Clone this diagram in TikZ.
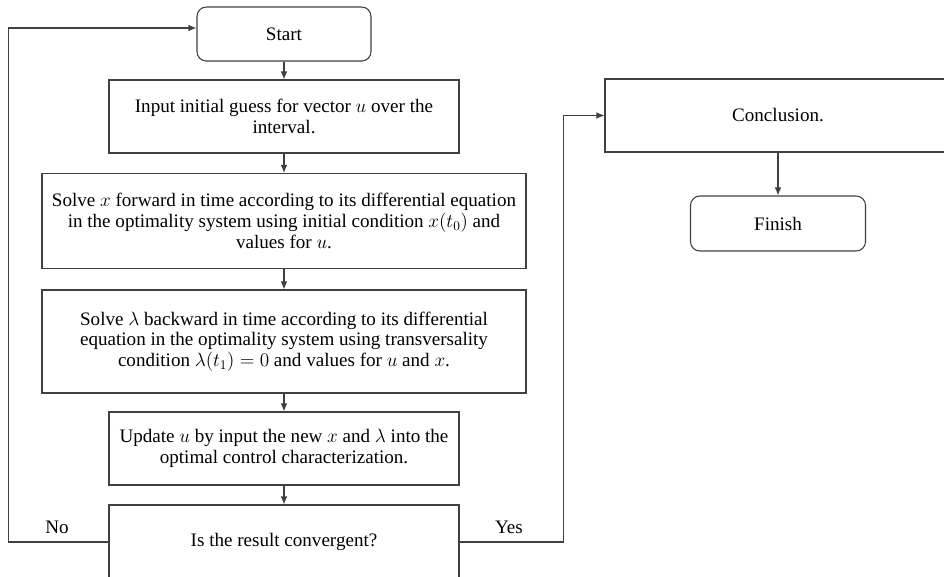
\documentclass[tikz,border=0pt]{standalone}
\usepackage{fontspec}
\setmainfont{Liberation Serif}
\usepackage{tikz}
\usetikzlibrary{arrows.meta}

\tikzset{
	stepbox/.style={draw=black!75, line width=0.8pt, align=center, inner sep=2pt,
		font=\fontsize{14.3}{15.6}\selectfont},
	endbox/.style={stepbox, rounded corners=7pt},
	flow/.style={draw=black!75, line width=0.8pt, -{Latex[length=6pt,width=5pt]}},
	answer/.style={font=\fontsize{14.3}{15.6}\selectfont}
}

\begin{document}
\begin{tikzpicture}[x=0.75pt, y=-0.75pt]
	\useasboundingbox (0,0) rectangle (944,576);
	%% main column
	\node[endbox, minimum width=130.5pt, minimum height=40.5pt] (start) at (284,34) {Start};
	\node[stepbox, minimum width=262.5pt, minimum height=54.75pt] (input) at (284,116.5)
		{Input initial guess for vector $u$ over the\\ interval.};
	\node[stepbox, minimum width=363pt, minimum height=71.25pt] (solvex) at (284,221)
		{Solve $x$ forward in time according to its differential equation\\
		 in the optimality system using initial condition $x(t_0)$ and\\ values for $u$.};
	\node[stepbox, minimum width=363pt, minimum height=77.25pt] (solvelam) at (284,341.5)
		{Solve $\lambda$ backward in time according to its differential\\
		 equation in the optimality system using transversality\\
		 condition $\lambda(t_1)=0$ and values for $u$ and $x$.};
	\node[stepbox, minimum width=262.5pt, minimum height=54.75pt] (update) at (284,448.5)
		{Update $u$ by input the new $x$ and $\lambda$ into the\\ optimal control characterization.};
	\node[stepbox, minimum width=262.5pt, minimum height=55.5pt] (conv) at (284,542)
		{Is the result convergent?};
	%% right column
	\node[stepbox, minimum width=259.5pt, minimum height=54.75pt] (concl) at (778,115.5) {Conclusion.};
	\node[endbox, minimum width=131.25pt, minimum height=41.25pt] (finish) at (778,223.5) {Finish};
	%% answers
	\node[answer] (nolabel) at (57,527) {No};
	\node[answer] (yeslabel) at (509,527) {Yes};
	%% arrows
	\draw[flow] (start) -- (input);
	\draw[flow] (input) -- (solvex);
	\draw[flow] (solvex) -- (solvelam);
	\draw[flow] (solvelam) -- (update);
	\draw[flow] (update) -- (conv);
	\draw[flow] (conv.west) -- ++(-100,0) |- ([yshift=4.5pt]start.west);
	\draw[flow] (conv.east) -- ++(104,0) |- (concl.west);
	\draw[flow] (concl) -- (finish);
\end{tikzpicture}
\end{document}
